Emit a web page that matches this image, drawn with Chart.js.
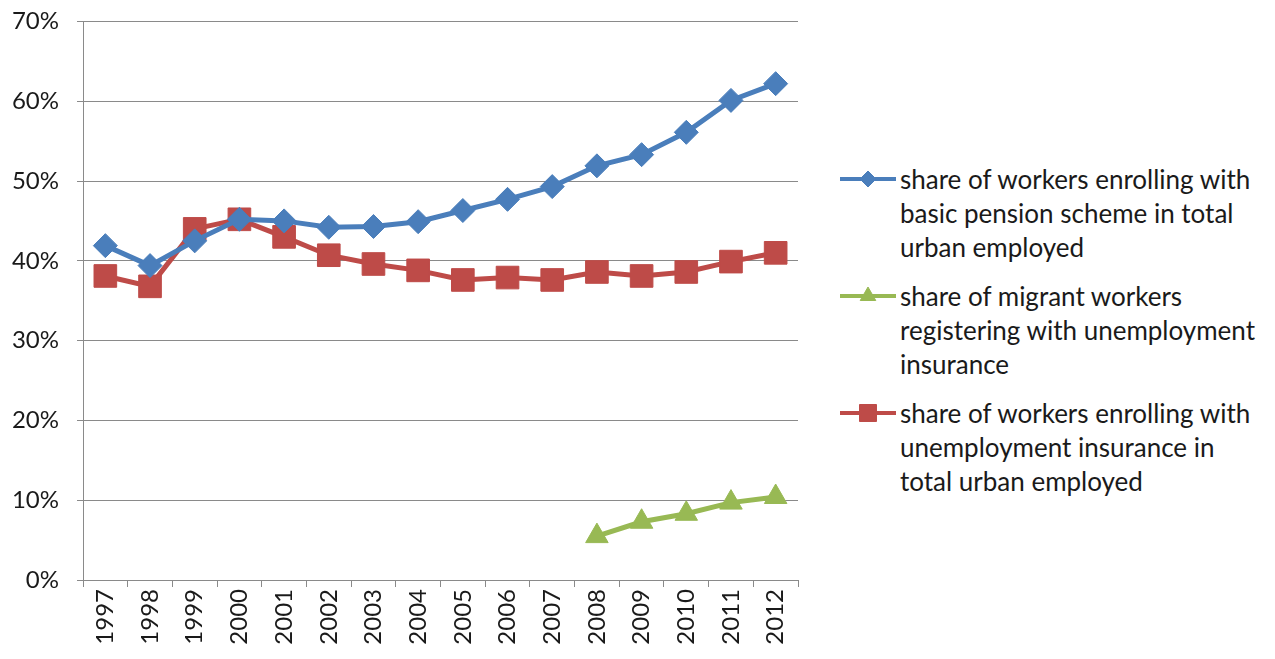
<!DOCTYPE html>
<html>
<head>
<meta charset="utf-8">
<script src="https://cdn.jsdelivr.net/npm/chart.js@4.4.0/dist/chart.umd.min.js"></script>
<style>
  body { margin: 0; background: #fff; width: 1275px; height: 659px; overflow: hidden; position: relative; }
  #wrap { position: absolute; left: 0; top: -11px; width: 820px; height: 670px; }
  #legend { position: absolute; left: 838px; top: 162px; font-family: Lato, "Noto Sans", sans-serif; font-size: 26px; color: #1a1a1a; }
  .item { position: relative; padding-left: 62px; line-height: 34px; margin-bottom: 15px; white-space: nowrap; }
  .item canvas { position: absolute; left: 0; top: 2px; }
</style>
</head>
<body>
<div id="wrap"><canvas id="chart"></canvas></div>
<div id="legend"></div>
<script>
/* ---- data ---- */
var years = ["1997","1998","1999","2000","2001","2002","2003","2004","2005","2006","2007","2008","2009","2010","2011","2012"];
var pension = [41.9, 39.4, 42.5, 45.2, 45.0, 44.2, 44.3, 44.9, 46.3, 47.7, 49.3, 51.9, 53.3, 56.1, 60.1, 62.2];
var migrantUnemp = [null, null, null, null, null, null, null, null, null, null, null, 5.5, 7.3, 8.3, 9.7, 10.4];
var urbanUnemp = [38.1, 36.8, 44.0, 45.2, 43.0, 40.7, 39.6, 38.8, 37.6, 37.9, 37.6, 38.6, 38.1, 38.6, 39.9, 41.0];
var yTicks = [0, 10, 20, 30, 40, 50, 60, 70];

var labelPension = ["share of workers enrolling with", "basic pension scheme in total", "urban employed"];
var labelMigrant = ["share of migrant workers", "registering with unemployment", "insurance"];
var labelUrban = ["share of workers enrolling with", "unemployment insurance in", "total urban employed"];

var BLUE = "#4a7ebb";
var GREEN = "#98b954";
var RED = "#be4b48";
var TICK_FONT = { family: "Lato, 'Noto Sans', sans-serif", size: 24 };

var series = [
  { label: labelPension, data: pension, color: BLUE, style: "rectRot", radius: 12, legendRadius: 8 },
  { label: labelMigrant, data: migrantUnemp, color: GREEN, style: "triangle", radius: 13, legendRadius: 9 },
  { label: labelUrban, data: urbanUnemp, color: RED, style: "rect", radius: 16, legendRadius: 12 }
];

var chartData = {
  labels: years,
  datasets: series.map(function (s) {
    return {
      label: s.label.join(" "),
      data: s.data,
      borderColor: s.color,
      backgroundColor: s.color,
      borderWidth: 5,
      pointStyle: s.style,
      pointRadius: s.radius,
      pointBorderWidth: 1,
      pointHoverRadius: s.radius,
      tension: 0,
      spanGaps: false
    };
  })
};

var ctx = document.getElementById("chart").getContext("2d");
var chart = new Chart(ctx, {
  type: "line",
  data: chartData,
  options: {
    responsive: true,
    maintainAspectRatio: false,
    animation: false,
    layout: { padding: { top: 11, right: 22, left: 0, bottom: 0 } },
    plugins: { legend: { display: false }, tooltip: { enabled: false } },
    scales: {
      x: {
        offset: true,
        grid: { display: true, drawOnChartArea: false, offset: true, tickLength: 7, color: "#8a8a8a" },
        border: { color: "#8a8a8a", width: 1 },
        ticks: { font: TICK_FONT, color: "#1a1a1a", maxRotation: 90, minRotation: 90, padding: 2 },
        afterFit: function (scale) { scale.height = 79; }
      },
      y: {
        min: 0,
        max: 70,
        afterBuildTicks: function (scale) { scale.ticks = yTicks.map(function (v) { return { value: v }; }); },
        grid: { color: "#8a8a8a", tickLength: 6, lineWidth: 1 },
        border: { color: "#8a8a8a", width: 1 },
        ticks: { font: TICK_FONT, color: "#1a1a1a", padding: 18, callback: function (v) { return v + "%"; } },
        afterFit: function (scale) { scale.width = 83; }
      }
    }
  }
});

// legend: line sample with marker plus wrapped label text
var legendBox = document.getElementById("legend");
series.forEach(function (s) {
  var item = document.createElement("div");
  item.className = "item";
  var c = document.createElement("canvas");
  c.width = 60; c.height = 30;
  var g = c.getContext("2d");
  g.strokeStyle = s.color;
  g.lineWidth = 4;
  g.beginPath(); g.moveTo(2, 15); g.lineTo(58, 15); g.stroke();
  g.fillStyle = s.color;
  g.strokeStyle = s.color;
  g.lineWidth = 1;
  Chart.helpers.drawPoint(g, { pointStyle: s.style, radius: s.legendRadius, borderWidth: 1, rotation: 0 }, 30, 15);
  item.appendChild(c);
  s.label.forEach(function (line) {
    var d = document.createElement("div");
    d.textContent = line;
    item.appendChild(d);
  });
  legendBox.appendChild(item);
});
</script>
</body>
</html>
